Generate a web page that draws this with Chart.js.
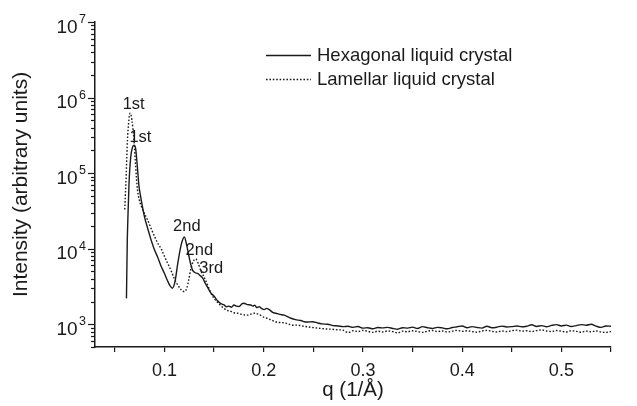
<!DOCTYPE html>
<html>
<head>
<meta charset="utf-8">
<script src="https://cdn.jsdelivr.net/npm/chart.js@4.4.0/dist/chart.umd.min.js"></script>
<style>
  html, body { margin: 0; padding: 0; background: #fff; }
</style>
</head>
<body>
<canvas id="saxsChart" width="637" height="406"></canvas>
<script>
//// Data

// Hexagonal liquid crystal (solid line)
const qHex = [0.0617, 0.0625, 0.0633, 0.0643, 0.0660, 0.0677, 0.0693, 0.0709, 0.0727, 0.0744,
    0.0760, 0.0778, 0.0800, 0.0829, 0.0862, 0.0895, 0.0930, 0.0963, 0.1000, 0.1030,
    0.1055, 0.1080, 0.1105, 0.1135, 0.1170, 0.1200, 0.1225, 0.1248, 0.1265, 0.1283,
    0.1310, 0.1333, 0.1360, 0.1384, 0.1410, 0.1434, 0.1467, 0.1500, 0.1535, 0.1568,
    0.1600, 0.1625, 0.1650, 0.1675, 0.1700, 0.1725, 0.1753, 0.1780, 0.1800, 0.1835,
    0.1870, 0.1890, 0.1910, 0.1930, 0.1955, 0.1980, 0.2005, 0.2030, 0.2056, 0.2090,
    0.2123, 0.2165, 0.2207, 0.2240, 0.2275, 0.2320, 0.2376, 0.2410, 0.2443, 0.2490,
    0.2544, 0.2590, 0.2645, 0.2700, 0.2750, 0.2800, 0.285, 0.290, 0.295, 0.300,
    0.305, 0.310, 0.315, 0.320, 0.325, 0.330, 0.335, 0.340, 0.345, 0.350,
    0.355, 0.360, 0.365, 0.370, 0.375, 0.380, 0.385, 0.390, 0.395, 0.400,
    0.405, 0.410, 0.415, 0.420, 0.425, 0.430, 0.435, 0.440, 0.445, 0.450,
    0.455, 0.460, 0.465, 0.470, 0.475, 0.480, 0.485, 0.490, 0.495, 0.500,
    0.505, 0.510, 0.515, 0.520, 0.525, 0.530, 0.535, 0.540, 0.545, 0.550];
const iHex = [2200, 12000, 29500, 74000, 162000, 219000, 234000, 214000, 120000, 66000,
    49000, 36000, 26000, 19000, 13500, 10000, 7800, 6000, 4700, 3800,
    3250, 3000, 3600, 6500, 11500, 14300, 11000, 7800, 6200, 5200,
    4800, 4700, 4400, 4100, 3500, 3100, 2600, 2350, 2050, 1880,
    1800, 1700, 1740, 1680, 1800, 1740, 1720, 1860, 1900, 1820,
    1800, 1740, 1790, 1660, 1710, 1610, 1560, 1620, 1560, 1440,
    1400, 1350, 1320, 1260, 1200, 1150, 1120, 1080, 1070, 1080,
    1040, 1010, 1000, 960, 950, 930, 940, 910, 935, 890,
    900, 870, 905, 895, 910, 880, 860, 900, 890, 915,
    880, 930, 900, 880, 910, 895, 870, 905, 925, 950,
    900, 930, 905, 890, 940, 900, 915, 945, 920, 930,
    950, 925, 940, 985, 935, 960, 925, 965, 990, 950,
    975, 935, 960, 990, 970, 1000, 945, 910, 950, 940];

// Lamellar liquid crystal (dotted line)
const qLam = [0.0600, 0.0615, 0.0627, 0.0638, 0.0645, 0.0653, 0.0662, 0.0672, 0.0683, 0.0693,
    0.0710, 0.0727, 0.0745, 0.0761, 0.0794, 0.0830, 0.0862, 0.0895, 0.0930, 0.0970,
    0.1000, 0.1035, 0.1070, 0.1100, 0.1135, 0.1170, 0.1200, 0.1225, 0.1245, 0.1266,
    0.1290, 0.1316, 0.1340, 0.1367, 0.1400, 0.1435, 0.1467, 0.1500, 0.1535, 0.1568,
    0.1600, 0.1630, 0.1670, 0.1700, 0.1737, 0.1770, 0.1800, 0.1838, 0.1870, 0.1905,
    0.1955, 0.2000, 0.2040, 0.2090, 0.2140, 0.2190, 0.2240, 0.2290, 0.2340, 0.2395,
    0.2477, 0.2545, 0.2610, 0.2680, 0.2750, 0.2800, 0.285, 0.290, 0.295, 0.300,
    0.305, 0.310, 0.315, 0.320, 0.325, 0.330, 0.335, 0.340, 0.345, 0.350,
    0.355, 0.360, 0.365, 0.370, 0.375, 0.380, 0.385, 0.390, 0.395, 0.400,
    0.405, 0.410, 0.415, 0.420, 0.425, 0.430, 0.435, 0.440, 0.445, 0.450,
    0.455, 0.460, 0.465, 0.470, 0.475, 0.480, 0.485, 0.490, 0.495, 0.500,
    0.505, 0.510, 0.515, 0.520, 0.525, 0.530, 0.535, 0.540, 0.545, 0.550];
const iLam = [33000, 100000, 275000, 450000, 560000, 620000, 600000, 500000, 380000, 275000,
    120000, 62000, 45000, 38000, 30000, 24000, 19000, 15000, 12000, 9800,
    7900, 6300, 5000, 4000, 3300, 2850, 2700, 3000, 3900, 5400,
    6800, 7300, 6400, 5100, 4200, 3300, 2600, 2200, 1950, 1760,
    1620, 1530, 1480, 1420, 1400, 1360, 1330, 1320, 1360, 1400,
    1340, 1240, 1190, 1120, 1060, 1050, 1020, 970, 975, 945,
    910, 890, 870, 860, 845, 835, 775, 820, 800, 830,
    805, 780, 810, 790, 815, 800, 770, 810, 795, 820,
    800, 780, 810, 825, 800, 815, 790, 810, 830, 805,
    820, 800, 785, 815, 830, 805, 790, 815, 800, 820,
    835, 810, 820, 800, 825, 840, 815, 800, 825, 810,
    790, 820, 805, 785, 810, 795, 815, 790, 780, 800];

// Peak labels, placed in data coordinates
const peakText = ['1st', '1st', '2nd', '2nd', '3rd'];
const peakQ = [0.0690, 0.0758, 0.1225, 0.1351, 0.1471];
const peakI = [802000, 295000, 19400, 9400, 5520];

// Axis ticks
const xTickValues = [0.05, 0.1, 0.15, 0.2, 0.25, 0.3, 0.35, 0.4, 0.45, 0.5, 0.55];
const xTickLabels = ['', '0.1', '', '0.2', '', '0.3', '', '0.4', '', '0.5', ''];
const yDecades = [1e3, 1e4, 1e5, 1e6, 1e7];
const yExponents = ['3', '4', '5', '6', '7'];

const seriesNames = ['Hexagonal liquid crystal', 'Lamellar liquid crystal'];

//// Drawing helpers
const ink = '#1a1a1a';
const fontFamily = '"Liberation Sans", Arial, Helvetica, sans-serif';

const toPoints = (qs, is) => qs.map((q, i) => ({ x: q, y: is[i] }));

// log axis: outward ticks (long on decades, short on 2..9) and 10^n labels
const logAxisPlugin = {
    id: 'logAxis',
    afterDraw(chart) {
        const ctx = chart.ctx;
        const y = chart.scales.y;
        const x0 = chart.chartArea.left;
        ctx.save();
        ctx.strokeStyle = ink;
        ctx.lineWidth = 1.2;
        for (let e = 2; e <= 7; e++) {
            for (let m = 1; m <= 9; m++) {
                const v = m * Math.pow(10, e);
                if (v < y.min || v > y.max) continue;
                const py = Math.round(y.getPixelForValue(v)) + 0.5;
                const len = m === 1 ? 7 : 4;
                ctx.beginPath();
                ctx.moveTo(x0 - len, py);
                ctx.lineTo(x0, py);
                ctx.stroke();
            }
        }
        ctx.fillStyle = ink;
        ctx.textAlign = 'right';
        ctx.textBaseline = 'alphabetic';
        yDecades.forEach((v, i) => {
            const py = y.getPixelForValue(v);
            ctx.font = '12.5px ' + fontFamily;
            const ew = ctx.measureText(yExponents[i]).width;
            ctx.fillText(yExponents[i], x0 - 9, py + 1);
            ctx.font = '19px ' + fontFamily;
            ctx.fillText('10', x0 - 10.5 - ew, py + 10.5);
        });
        ctx.restore();
    }
};

// legend inside the plot and the peak order labels
const overlayPlugin = {
    id: 'overlay',
    afterDatasetsDraw(chart) {
        const ctx = chart.ctx;
        const { x, y } = chart.scales;
        ctx.save();
        ctx.fillStyle = ink;
        ctx.font = '16.5px ' + fontFamily;
        ctx.textAlign = 'center';
        ctx.textBaseline = 'middle';
        peakText.forEach((t, i) => {
            ctx.fillText(t, x.getPixelForValue(peakQ[i]), y.getPixelForValue(peakI[i]));
        });

        ctx.font = '18.5px ' + fontFamily;
        ctx.textAlign = 'left';
        chart.data.datasets.forEach((ds, i) => {
            const ly = 55 + i * 24;
            ctx.strokeStyle = ds.borderColor;
            ctx.lineWidth = ds.borderWidth;
            ctx.setLineDash(ds.borderDash || []);
            ctx.beginPath();
            ctx.moveTo(266, ly + 0.5);
            ctx.lineTo(311, ly + 0.5);
            ctx.stroke();
            ctx.setLineDash([]);
            ctx.fillText(seriesNames[i], 317, ly + 1);
        });
        ctx.restore();
    }
};

//// Chart
window.onload = () => {
    const canvas = document.getElementById('saxsChart');

    new Chart(canvas, {
        type: 'line',
        data: {
            datasets: [
                {
                    label: seriesNames[0],
                    data: toPoints(qHex, iHex),
                    borderColor: ink,
                    borderWidth: 1.4,
                    pointRadius: 0,
                    cubicInterpolationMode: 'monotone',
                    fill: false
                },
                {
                    label: seriesNames[1],
                    data: toPoints(qLam, iLam),
                    borderColor: ink,
                    borderWidth: 1.4,
                    borderDash: [1.6, 1.8],
                    pointRadius: 0,
                    cubicInterpolationMode: 'monotone',
                    fill: false
                }
            ]
        },
        options: {
            responsive: false,
            animation: false,
            devicePixelRatio: 1,
            layout: { padding: { top: 22, right: 26, left: 0, bottom: 0 } },
            plugins: {
                legend: { display: false },
                tooltip: { enabled: false }
            },
            scales: {
                x: {
                    type: 'linear',
                    min: 0.03,
                    max: 0.55,
                    afterBuildTicks: (scale) => {
                        scale.ticks = xTickValues.map(v => ({ value: v }));
                    },
                    afterFit: (scale) => { scale.height = 59; },
                    ticks: {
                        autoSkip: false,
                        maxRotation: 0,
                        padding: 8,
                        color: ink,
                        font: { family: fontFamily, size: 18 },
                        callback: (value, index) => xTickLabels[index]
                    },
                    grid: {
                        drawOnChartArea: false,
                        drawTicks: true,
                        tickLength: 5,
                        color: ink,
                        lineWidth: 1.2
                    },
                    border: { display: true, color: ink, width: 1.5 },
                    title: {
                        display: true,
                        text: 'q (1/Å)',
                        color: ink,
                        font: { family: fontFamily, size: 20.5 },
                        padding: { top: 0, bottom: 3 }
                    }
                },
                y: {
                    type: 'logarithmic',
                    min: 500,
                    max: 1e7,
                    afterFit: (scale) => { scale.width = 95; },
                    ticks: { display: false },
                    grid: { display: false },
                    border: { display: true, color: ink, width: 1.5 },
                    title: {
                        display: true,
                        text: 'Intensity (arbitrary units)',
                        color: ink,
                        font: { family: fontFamily, size: 21 },
                        padding: { top: 9, bottom: 0 }
                    }
                }
            }
        },
        plugins: [logAxisPlugin, overlayPlugin]
    });
};
</script>
</body>
</html>
